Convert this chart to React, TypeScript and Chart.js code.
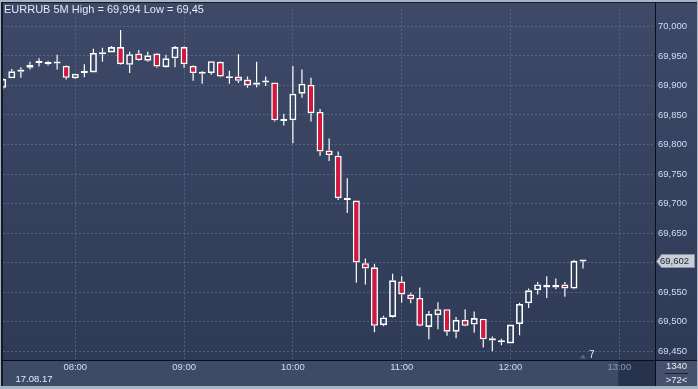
import React, { useEffect, useRef } from "react";
import { Chart, registerables } from "chart.js";

Chart.register(...registerables);

const times = [
  "07:20", "07:25", "07:30", "07:35", "07:40", "07:45", "07:50", "07:55",
  "08:00", "08:05", "08:10", "08:15", "08:20", "08:25", "08:30", "08:35",
  "08:40", "08:45", "08:50", "08:55", "09:00", "09:05", "09:10", "09:15",
  "09:20", "09:25", "09:30", "09:35", "09:40", "09:45", "09:50", "09:55",
  "10:00", "10:05", "10:10", "10:15", "10:20", "10:25", "10:30", "10:35",
  "10:40", "10:45", "10:50", "10:55", "11:00", "11:05", "11:10", "11:15",
  "11:20", "11:25", "11:30", "11:35", "11:40", "11:45", "11:50", "11:55",
  "12:00", "12:05", "12:10", "12:15", "12:20", "12:25", "12:30", "12:35",
  "12:40",
];

const opens = [
  69.896, 69.912, 69.923, 69.930, 69.938, 69.940, 69.937, 69.933,
  69.912, 69.921, 69.922, 69.953, 69.956, 69.965, 69.935, 69.954,
  69.942, 69.954, 69.931, 69.946, 69.965, 69.933, 69.920, 69.921,
  69.940, 69.915, 69.915, 69.910, 69.901, 69.905, 69.905, 69.843,
  69.841, 69.886, 69.901, 69.855, 69.790, 69.781, 69.710, 69.705,
  69.599, 69.592, 69.494, 69.508, 69.568, 69.546, 69.540, 69.491,
  69.511, 69.521, 69.483, 69.503, 69.495, 69.505, 69.472, 69.468,
  69.463, 69.496, 69.531, 69.553, 69.562, 69.558, 69.563, 69.556,
  69.602,
];

const highs = [
  69.912, 69.928, 69.931, 69.940, 69.946, 69.942, 69.952, 69.934,
  69.920, 69.936, 69.962, 69.964, 69.967, 69.994, 69.957, 69.960,
  69.957, 69.955, 69.952, 69.967, 69.966, 69.934, 69.924, 69.941,
  69.941, 69.925, 69.953, 69.915, 69.940, 69.915, 69.905, 69.852,
  69.933, 69.927, 69.913, 69.860, 69.810, 69.788, 69.743, 69.705,
  69.607, 69.598, 69.510, 69.581, 69.577, 69.549, 69.558, 69.518,
  69.533, 69.521, 69.508, 69.521, 69.517, 69.505, 69.475, 69.471,
  69.495, 69.532, 69.556, 69.567, 69.577, 69.573, 69.567, 69.605,
  69.603,
];

const lows = [
  69.893, 69.912, 69.913, 69.927, 69.932, 69.934, 69.927, 69.910,
  69.911, 69.914, 69.922, 69.940, 69.956, 69.935, 69.921, 69.942,
  69.940, 69.930, 69.930, 69.931, 69.930, 69.908, 69.903, 69.918,
  69.914, 69.903, 69.904, 69.896, 69.897, 69.899, 69.839, 69.832,
  69.802, 69.879, 69.839, 69.781, 69.772, 69.706, 69.684, 69.566,
  69.563, 69.482, 69.492, 69.507, 69.532, 69.531, 69.492, 69.470,
  69.487, 69.476, 69.472, 69.492, 69.481, 69.456, 69.450, 69.460,
  69.463, 69.477, 69.523, 69.546, 69.540, 69.555, 69.542, 69.555,
  69.590,
];

const closes = [
  69.911, 69.924, 69.927, 69.935, 69.938, 69.936, 69.937, 69.913,
  69.920, 69.922, 69.955, 69.956, 69.965, 69.936, 69.953, 69.943,
  69.951, 69.932, 69.946, 69.965, 69.936, 69.921, 69.921, 69.941,
  69.915, 69.912, 69.908, 69.900, 69.905, 69.906, 69.841, 69.840,
  69.886, 69.903, 69.853, 69.788, 69.782, 69.709, 69.706, 69.600,
  69.590, 69.493, 69.507, 69.570, 69.546, 69.538, 69.493, 69.513,
  69.521, 69.483, 69.503, 69.493, 69.506, 69.470, 69.468, 69.465,
  69.495, 69.530, 69.553, 69.563, 69.558, 69.562, 69.556, 69.603,
  69.602,
];

const yTicks = [69.45, 69.5, 69.55, 69.6, 69.65, 69.7, 69.75, 69.8, 69.85, 69.9, 69.95, 70.0];
const xTickLabels = ["08:00", "09:00", "10:00", "11:00", "12:00", "13:00"];
const titleText = "EURRUB 5M High = 69,994 Low = 69,45";
const dateText = "17.08.17";
const cornerTop = "1340";
const cornerBottom = ">72<";
const markerText = "7";
const markerTime = "12:40";

const toMin = (s: string) => {
  const [h, m] = s.split(":").map(Number);
  return h * 60 + m;
};
const idxOf = (s: string) => (toMin(s) - toMin(times[0])) / 5;
const fmt = (v: number) => v.toFixed(3).replace(".", ",");

const FONT = "'Liberation Sans', Arial, sans-serif";
const LABEL = "#cfdff8";
const RED = "#dc143c";

const framePlugin = {
  id: "frame",
  beforeDraw(chart: any) {
    const { ctx, chartArea } = chart;
    const W = chart.width;
    const H = chart.height;
    ctx.save();
    ctx.fillStyle = "#a7b3c6";
    ctx.fillRect(0, 0, W, H);
    ctx.fillStyle = "#151a24";
    ctx.fillRect(1, 2, W - 2, H - 5);
    const g = ctx.createLinearGradient(0, chartArea.top, 0, chartArea.bottom);
    g.addColorStop(0, "#3d4966");
    g.addColorStop(1, "#2e3a56");
    ctx.fillStyle = g;
    ctx.fillRect(3, 3, W - 4, chartArea.bottom - 3);
    // time band
    ctx.fillStyle = "#3e4b67";
    ctx.fillRect(3, chartArea.bottom + 1, W - 4, H - 4 - chartArea.bottom);
    // dark box at end of time band
    const xs = chart.scales.x;
    const x13 = xs.getPixelForValue(idxOf("13:00"));
    ctx.fillStyle = "#27324c";
    ctx.fillRect(x13 - 1, chartArea.bottom + 1, chartArea.right - x13 + 1, H - 4 - chartArea.bottom);
    // corner box
    ctx.fillStyle = "#46526d";
    ctx.fillRect(chartArea.right + 1, chartArea.bottom + 1, W - chartArea.right - 2, H - 4 - chartArea.bottom);
    ctx.restore();
  },
  afterDraw(chart: any) {
    const { ctx, chartArea } = chart;
    const W = chart.width;
    const H = chart.height;
    ctx.save();
    ctx.fillStyle = "#0b0e14";
    ctx.fillRect(chartArea.right, 2, 1, H - 5);
    ctx.fillRect(1, chartArea.bottom, W - 2, 1);

    ctx.textBaseline = "alphabetic";
    ctx.textAlign = "left";
    ctx.font = `11px ${FONT}`;
    ctx.fillStyle = "#e2eaf8";
    ctx.fillText(titleText, 4, 12.5);

    ctx.font = `9.5px ${FONT}`;
    ctx.fillStyle = "#e6ecf6";
    ctx.textBaseline = "middle";
    ctx.fillText(dateText, 15.5, 379.5);

    const cx = (chartArea.right + W) / 2;
    ctx.textAlign = "center";
    ctx.fillText(cornerTop, cx, 366.5);
    ctx.fillText(cornerBottom, cx, 380);
    ctx.fillStyle = "#1c2233";
    ctx.fillRect(cx - 12, 373, 24, 1);

    // marker under the last bar
    const mx = chart.scales.x.getPixelForValue(idxOf(markerTime));
    ctx.fillStyle = "#5b667f";
    ctx.beginPath();
    ctx.moveTo(mx - 3, 358.5);
    ctx.lineTo(mx, 354.5);
    ctx.lineTo(mx + 3, 358.5);
    ctx.closePath();
    ctx.fill();
    ctx.fillStyle = "#e6ecf6";
    ctx.textAlign = "left";
    ctx.font = `10px ${FONT}`;
    ctx.fillText(markerText, mx + 6, 355);

    // last price label
    const last = closes[closes.length - 1];
    const py = Math.round(chart.scales.y.getPixelForValue(last)) + 0.5;
    const lx = chartArea.right + 1;
    ctx.beginPath();
    ctx.moveTo(lx + 0.5, py);
    ctx.lineTo(lx + 5.5, py - 7);
    ctx.lineTo(W - 3.5, py - 7);
    ctx.lineTo(W - 3.5, py + 6);
    ctx.lineTo(lx + 5.5, py + 6);
    ctx.closePath();
    ctx.fillStyle = "#c9cdd5";
    ctx.fill();
    ctx.strokeStyle = "#8c94a4";
    ctx.lineWidth = 1;
    ctx.stroke();
    ctx.fillStyle = "#1b2233";
    ctx.font = `9.5px ${FONT}`;
    ctx.textAlign = "left";
    ctx.textBaseline = "middle";
    ctx.fillText(fmt(last), lx + 4, py);
    ctx.restore();
  },
};

export default function App() {
  const ref = useRef<HTMLCanvasElement | null>(null);
  useEffect(() => {
    if (!ref.current) return;
    const bodyLo = opens.map((o, i) => Math.min(o, closes[i]));
    const bodyHi = opens.map((o, i) => Math.max(o, closes[i]));
    const xTickVals = xTickLabels.map(idxOf);
    const gridColor = "rgba(112,128,160,0.55)";
    const chart = new Chart(ref.current, {
      type: "bar",
      data: {
        datasets: [
          {
            label: "body",
            data: opens.map((o, i) => ({ x: i, y: [o, closes[i]] })) as any,
            backgroundColor: opens.map((o, i) => (closes[i] < o ? RED : "rgba(0,0,0,0)")),
            borderColor: "#ffffff",
            borderWidth: 1.6,
            borderSkipped: false,
            barThickness: 7,
            minBarLength: 2,
            grouped: false,
            inflateAmount: 0,
            order: 1,
          } as any,
          {
            label: "lowWick",
            data: lows.map((l, i) => ({ x: i, y: [Math.min(l, bodyLo[i]), bodyLo[i]] })) as any,
            backgroundColor: "#ffffff",
            borderWidth: 0,
            barThickness: 1.2,
            grouped: false,
            inflateAmount: 0,
            order: 2,
          } as any,
          {
            label: "highWick",
            data: highs.map((h, i) => ({ x: i, y: [bodyHi[i], Math.max(h, bodyHi[i])] })) as any,
            backgroundColor: "#ffffff",
            borderWidth: 0,
            barThickness: 1.2,
            grouped: false,
            inflateAmount: 0,
            order: 2,
          } as any,
        ],
      },
      options: {
        responsive: false,
        animation: false,
        layout: { padding: { left: 3, top: 3, right: 0, bottom: 3 } },
        plugins: {
          legend: { display: false },
          tooltip: { enabled: false },
        },
        scales: {
          x: {
            type: "linear",
            position: "bottom",
            offset: false,
            min: 0.03,
            max: 71.94,
            afterBuildTicks: (s: any) => {
              s.ticks = xTickVals.map((v) => ({ value: v }));
            },
            afterFit: (s: any) => {
              s.height = 26;
            },
            grid: { color: gridColor, lineWidth: 1, drawTicks: false, offset: false },
            border: { display: false, dash: [2, 2] },
            ticks: {
              color: (c: any) => (c.index === xTickLabels.length - 1 ? "#8e9ab4" : LABEL),
              font: { family: FONT, size: 9.5 },
              padding: 2,
              maxRotation: 0,
              autoSkip: false,
              callback: (_v: any, i: number) => xTickLabels[i],
            },
          },
          y: {
            type: "linear",
            position: "right",
            min: 69.435,
            max: 70.03,
            afterBuildTicks: (s: any) => {
              s.ticks = yTicks.map((v) => ({ value: v }));
            },
            afterFit: (s: any) => {
              s.width = 43;
            },
            grid: { color: gridColor, lineWidth: 1, drawTicks: false },
            border: { display: false, dash: [2, 2] },
            ticks: {
              color: LABEL,
              font: { family: FONT, size: 9.5 },
              padding: 3,
              autoSkip: false,
              callback: (v: any) => fmt(Number(v)),
            },
          },
        },
      } as any,
      plugins: [framePlugin],
    });
    return () => chart.destroy();
  }, []);
  return (
    <div style={{ position: "fixed", left: 0, top: 0, width: 698, height: 389 }}>
      <canvas ref={ref} width={698} height={389} style={{ display: "block", width: 698, height: 389 }} />
    </div>
  );
}
